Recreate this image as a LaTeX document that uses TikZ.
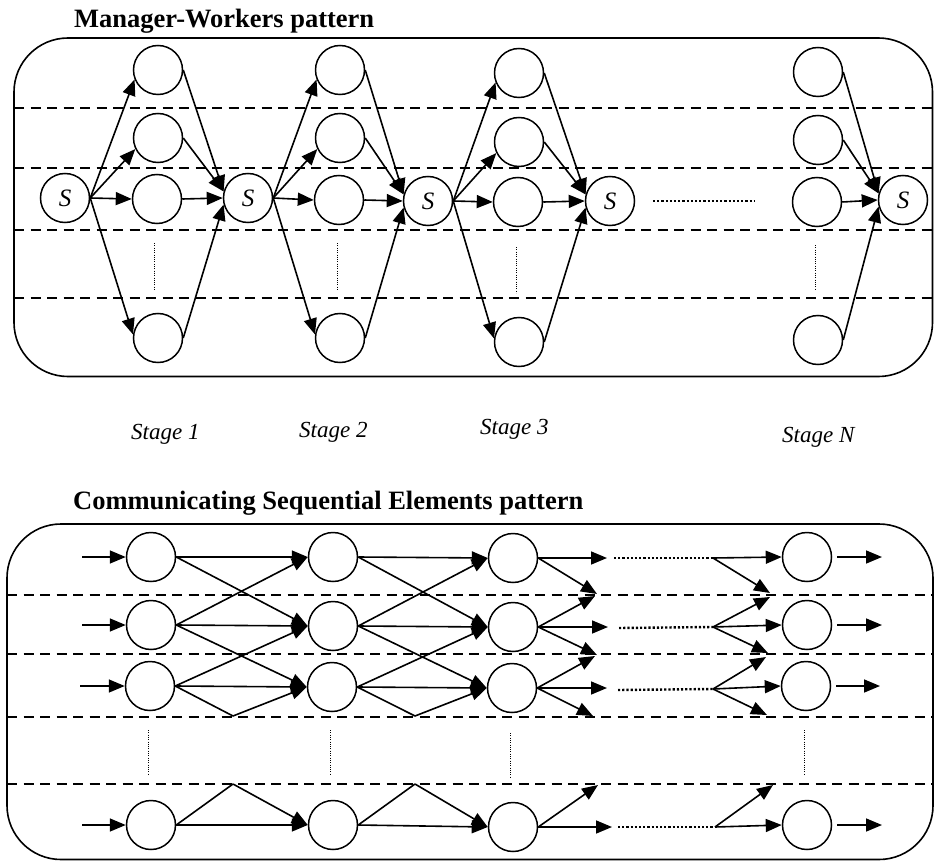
\documentclass[tikz,border=0pt]{standalone}
\usepackage{fontspec}
\setmainfont{Liberation Serif}
\usetikzlibrary{arrows.meta}
\begin{document}
\begin{tikzpicture}[x=1pt,y=-1pt,
  wk/.style={circle,draw,line width=1.5pt,minimum size=49pt,inner sep=0pt},
  sn/.style={wk,font=\fontsize{25}{27}\selectfont\itshape},
  ar/.style={line width=1.6pt,-{Triangle[length=16pt,width=13pt]}},
  ln/.style={line width=1.6pt},
  sep/.style={line width=1.6pt,dash pattern=on 10pt off 6.5pt},
  vdots/.style={line width=0.9pt,dash pattern=on 1pt off 1.3pt},
  hdots/.style={line width=2.4pt,dash pattern=on 2.2pt off 2pt},
  box/.style={draw,line width=1.6pt,rounded corners=54pt},
  ttl/.style={font=\fontsize{26.5}{30}\selectfont\bfseries,inner sep=0pt,anchor=base west},
  stg/.style={font=\fontsize{23}{26}\selectfont\itshape,inner sep=0pt,anchor=base west}]
\useasboundingbox (0,0) rectangle (934,861);

% ===================== Manager-Workers =====================
\node[ttl] (t1) at (74,28) {Manager-Workers pattern};
\draw[box] (14,38) rectangle (932.5,376.5);
\foreach \y in {108,168,230,298} \draw[sep] (14,\y) -- (932.5,\y);

\node[sn] (S1) at (65,198) {S};
\node[sn] (S2) at (248,198) {S};
\node[sn] (S3) at (428,201) {S};
\node[sn] (S4) at (610,201) {S};
\node[sn] (S5) at (903,200) {S};

\foreach \c/\x/\ya/\yb/\yc/\yd in {1/158/70/138/199/338, 2/340/70/138/200/338, 3/519/73/142/202/342, N/818/72/140/202/340} {
  \node[wk] (w\c-1) at (\x,\ya) {};
  \node[wk] (w\c-2) at (\x,\yb) {};
  \node[wk] (w\c-3) at (\x-1,\yc) {};
  \node[wk] (w\c-4) at (\x,\yd) {};
}

\foreach \c/\s in {1/S1, 2/S2, 3/S3} {
  \draw[ar] (\s.east) -- (w\c-1.202);
  \draw[ar] (\s.east) -- (w\c-2.206);
  \draw[ar] (\s.east) -- (w\c-3.west);
  \draw[ar] (\s.east) -- (w\c-4.172);
}
\foreach \c/\t in {1/S2, 2/S3, 3/S4, N/S5} {
  \draw[ar] (w\c-1.east) -- (\t.165);
  \draw[ar] (w\c-2.east) -- (\t.165);
  \draw[ar] (w\c-3.east) -- (\t.west);
  \draw[ar] (w\c-4.east) -- (\t.195);
}

\draw[vdots] (154,243) -- (154,290);
\draw[vdots] (337,243) -- (337,290);
\draw[vdots] (516,247) -- (516,293);
\draw[vdots] (815,245) -- (815,290);
\draw[hdots] (653,201) -- (755,201);

\node[stg] (st1) at (131,439) {Stage 1};
\node[stg] (st2) at (299,437) {Stage 2};
\node[stg] (st3) at (480,434) {Stage 3};
\node[stg] (stN) at (782,442) {Stage N};

% ===================== Communicating Sequential Elements =====================
\node[ttl] (t2) at (73,509) {Communicating Sequential Elements pattern};
\draw[box] (7,524) rectangle (933,859.5);
\foreach \y in {595,654,717,784} \draw[sep] (7,\y) -- (933,\y);

\foreach \n/\x/\ya/\yb/\yc/\yd in {a/151/557/625/686/825, b/333/557/626/687/825, c/513/558/627/688/827, d/807/557/625/686/825} {
  \node[wk] (\n1) at (\x,\ya) {};
  \node[wk] (\n2) at (\x,\yb) {};
  \node[wk] (\n3) at (\x-1,\yc) {};
  \node[wk] (\n4) at (\x,\yd) {};
}

% inputs
\coordinate (in1) at (82,557);
\coordinate (in2) at (82,625);
\coordinate (in3) at (80,686);
\coordinate (in4) at (82,825);
\foreach \i in {1,2,3,4} \draw[ar] (in\i) -- (a\i.west);

% col -> col
\coordinate (va) at (233,716);
\coordinate (ua) at (233,784);
\coordinate (vb) at (415,716);
\coordinate (ub) at (415,784);
\foreach \p/\q in {a/b, b/c} {
  \draw[ar] (\p1.east) -- (\q1.west);
  \draw[ar] (\p1.east) -- (\q2.west);
  \draw[ar] (\p2.east) -- (\q1.west);
  \draw[ar] (\p2.east) -- (\q2.west);
  \draw[ar] (\p2.east) -- (\q3.west);
  \draw[ar] (\p3.east) -- (\q2.west);
  \draw[ar] (\p3.east) -- (\q3.west);
  \draw[ln] (\p3.east) -- (v\p);
  \draw[ar] (v\p) -- (\q3.west);
  \draw[ln] (\p4.east) -- (u\p);
  \draw[ar] (u\p) -- (\q4.west);
  \draw[ar] (\p4.east) -- (\q4.west);
}

% col 3 -> dotted region
\coordinate (g1s) at (607,558);
\coordinate (g1d) at (597,594);
\coordinate (g2u) at (595,596);
\coordinate (g2s) at (608,627);
\coordinate (g2d) at (597,655);
\coordinate (g3u) at (595,656);
\coordinate (g3s) at (607,688);
\coordinate (g3d) at (593,716);
\coordinate (g4u) at (598,785);
\coordinate (g4s) at (612,827);
\draw[ar] (c1.east) -- (g1s);
\draw[ar] (c1.east) -- (g1d);
\draw[ar] (c2.east) -- (g2u);
\draw[ar] (c2.east) -- (g2s);
\draw[ar] (c2.east) -- (g2d);
\draw[ar] (c3.east) -- (g3u);
\draw[ar] (c3.east) -- (g3s);
\draw[ar] (c3.east) -- (g3d);
\draw[ar] (c4.east) -- (g4u);
\draw[ar] (c4.east) -- (g4s);

% dotted lines
\coordinate (f1) at (614,558);
\coordinate (f2) at (619,628);
\coordinate (f3) at (618,690);
\coordinate (f4) at (618,827);
\coordinate (e1) at (713,558);
\coordinate (e2) at (713,627);
\coordinate (e3) at (713,689);
\coordinate (e4) at (715,827);
\foreach \i in {1,2,3,4} \draw[hdots] (f\i) -- (e\i);

% dotted region -> col N
\coordinate (h1d) at (770,593);
\coordinate (h2u) at (770,597);
\coordinate (h2d) at (768,653);
\coordinate (h3u) at (766,657);
\coordinate (h3d) at (767,715);
\coordinate (h4u) at (773,785);
\draw[ar] (e1) -- (d1.west);
\draw[ar] (e1) -- (h1d);
\draw[ar] (e2) -- (h2u);
\draw[ar] (e2) -- (d2.west);
\draw[ar] (e2) -- (h2d);
\draw[ar] (e3) -- (h3u);
\draw[ar] (e3) -- (d3.west);
\draw[ar] (e3) -- (h3d);
\draw[ar] (e4) -- (h4u);
\draw[ar] (e4) -- (d4.west);

% outputs
\coordinate (o1) at (882,557);
\coordinate (o2) at (882,625);
\coordinate (o3) at (880,686);
\coordinate (o4) at (882,825);
\foreach \i in {1,2,3,4} \draw[ar,shorten <=5pt] (d\i.east) -- (o\i);

% vertical dotted lines
\draw[vdots] (148,730) -- (148,775);
\draw[vdots] (330,730) -- (330,775);
\draw[vdots] (510,733) -- (510,778);
\draw[vdots] (804,730) -- (804,775);
\end{tikzpicture}
\end{document}
